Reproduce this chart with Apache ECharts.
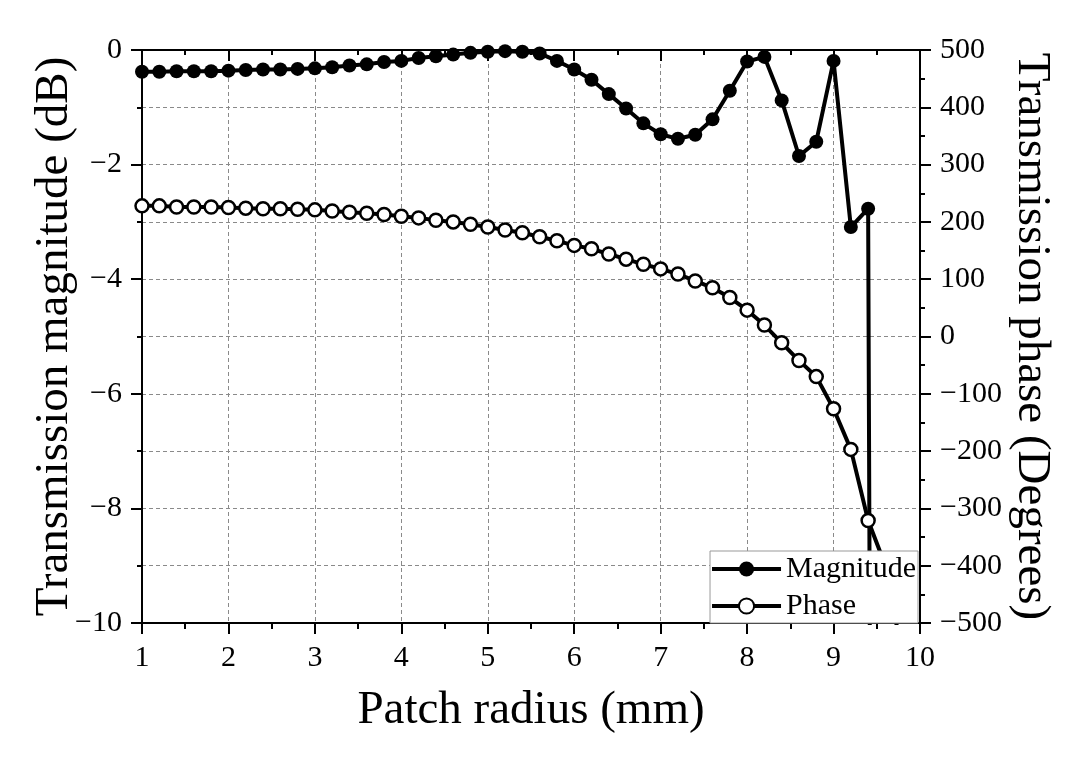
<!DOCTYPE html>
<html>
<head>
<meta charset="utf-8">
<script src="https://cdn.jsdelivr.net/npm/echarts@6/dist/echarts.min.js"></script>
<style>
html,body{margin:0;padding:0;background:#fff;}
#c{width:1079px;height:760px;}
</style>
</head>
<body>
<div id="c"></div>
<script>
const radius = [1.0,1.2,1.4,1.6,1.8,2.0,2.2,2.4,2.6,2.8,3.0,3.2,3.4,3.6,3.8,4.0,4.2,4.4,4.6,4.8,5.0,5.2,5.4,5.6,5.8,6.0,6.2,6.4,6.6,6.8,7.0,7.2,7.4,7.6,7.8,8.0,8.2,8.4,8.6,8.8,9.0,9.2,9.4,9.6,9.8];
const magnitude = [-0.38,-0.38,-0.37,-0.37,-0.37,-0.36,-0.35,-0.34,-0.34,-0.33,-0.32,-0.30,-0.27,-0.25,-0.21,-0.19,-0.14,-0.11,-0.08,-0.05,-0.03,-0.02,-0.03,-0.06,-0.19,-0.34,-0.52,-0.77,-1.02,-1.28,-1.47,-1.55,-1.48,-1.21,-0.71,-0.20,-0.12,-0.88,-1.85,-1.60,-0.19,-3.09,-2.77,-80];
const phase = [228,228,226,226,226,225,224,223,223,222,221,219,217,215,213,210,207,203,200,196,191,186,181,174,167,159,153,144,135,126,118,109,97,85,68,46,20,-11,-42,-70,-126,-197,-321,-400,-560];
const xTicks = [1,2,3,4,5,6,7,8,9,10];
const leftTicks = [-10,-8,-6,-4,-2,0];
const rightTicks = [-500,-400,-300,-200,-100,0,100,200,300,400,500];

const FONT = 'Liberation Serif';
const minus = v => (v < 0 ? '\u2212' + Math.abs(v) : String(v));
const magData = magnitude.map((v, i) => [radius[i], v]);
const phaseData = phase.map((v, i) => [radius[i], v]);

const axisLine = {show: true, onZero: false, lineStyle: {color: '#000', width: 2}};
const grid = {left: 142, right: 159, top: 50, bottom: 137};
const dash = {show: true, lineStyle: {color: '#8a8a8a', width: 1, type: [4, 3]}};
const tick = {show: true, inside: false, length: 11, lineStyle: {color: '#000', width: 2}};
const minor = {show: true, splitNumber: 2, length: 5, lineStyle: {color: '#000', width: 2}};
const labelFont = {fontFamily: FONT, fontSize: 30, color: '#000'};
const titleFont = {fontFamily: FONT, fontSize: 47, color: '#000'};

const chart = echarts.init(document.getElementById('c'), null, {renderer: 'canvas'});
chart.setOption({
  animation: false,
  backgroundColor: '#fff',
  grid: grid,
  legend: {
    right: 161, bottom: 137,
    orient: 'vertical',
    backgroundColor: '#fff',
    borderColor: '#999',
    borderWidth: 1,
    borderRadius: 0,
    padding: [3, 2, 2, 0],
    itemGap: 7,
    itemWidth: 69,
    itemHeight: 19,
    itemTextGap: 9,
    lineStyle: {width: 4},
    textStyle: {fontFamily: FONT, fontSize: 30, color: '#000', lineHeight: 30},
    data: ['Magnitude', 'Phase']
  },
  xAxis: [{
    type: 'value', position: 'bottom', min: 1, max: 10, interval: 1,
    name: 'Patch radius (mm)', nameLocation: 'middle', nameGap: 64, nameMoveOverlap: false,
    nameTextStyle: titleFont,
    axisLine: axisLine,
    axisTick: tick,
    minorTick: Object.assign({}, minor, {length: 6}),
    axisLabel: Object.assign({}, labelFont, {margin: 20,
      formatter: v => xTicks.includes(v) ? String(v) : ''}),
    splitLine: dash
  }, {
    type: 'value', position: 'top', min: 1, max: 10, interval: 1,
    axisLine: axisLine,
    axisTick: Object.assign({}, tick, {inside: true}),
    minorTick: minor,
    axisLabel: {show: false},
    splitLine: {show: false}
  }],
  yAxis: [{
    type: 'value', position: 'left', min: -10, max: 0, interval: 2,
    name: 'Transmission magnitude (dB)', nameLocation: 'middle', nameGap: 64, nameMoveOverlap: false,
    nameTextStyle: titleFont,
    axisLine: axisLine,
    axisTick: tick,
    minorTick: minor,
    axisLabel: Object.assign({}, labelFont, {margin: 20,
      formatter: v => leftTicks.includes(v) ? minus(v) : ''}),
    splitLine: {show: false}
  }, {
    type: 'value', position: 'right', min: -500, max: 500, interval: 100,
    name: 'Transmission phase (Degrees)', nameLocation: 'middle', nameGap: 88, nameRotate: -90, nameMoveOverlap: false,
    nameTextStyle: titleFont,
    axisLine: axisLine,
    axisTick: tick,
    minorTick: minor,
    axisLabel: Object.assign({}, labelFont, {margin: 20,
      formatter: v => rightTicks.includes(v) ? minus(v) : ''}),
    splitLine: dash
  }],
  series: [{
    name: 'Magnitude', type: 'line', xAxisIndex: 0, yAxisIndex: 0,
    data: magData, clip: true, z: 2,
    symbol: 'circle', symbolSize: 14, showAllSymbol: true,
    lineStyle: {color: '#000', width: 4},
    itemStyle: {color: '#000', borderColor: '#000', borderWidth: 0}
  }, {
    name: 'Phase', type: 'line', xAxisIndex: 0, yAxisIndex: 1,
    data: phaseData, clip: true, z: 3,
    symbol: 'circle', symbolSize: 13, showAllSymbol: true,
    lineStyle: {color: '#000', width: 4},
    itemStyle: {color: '#fff', borderColor: '#000', borderWidth: 2.5}
  }]
});
</script>
</body>
</html>
